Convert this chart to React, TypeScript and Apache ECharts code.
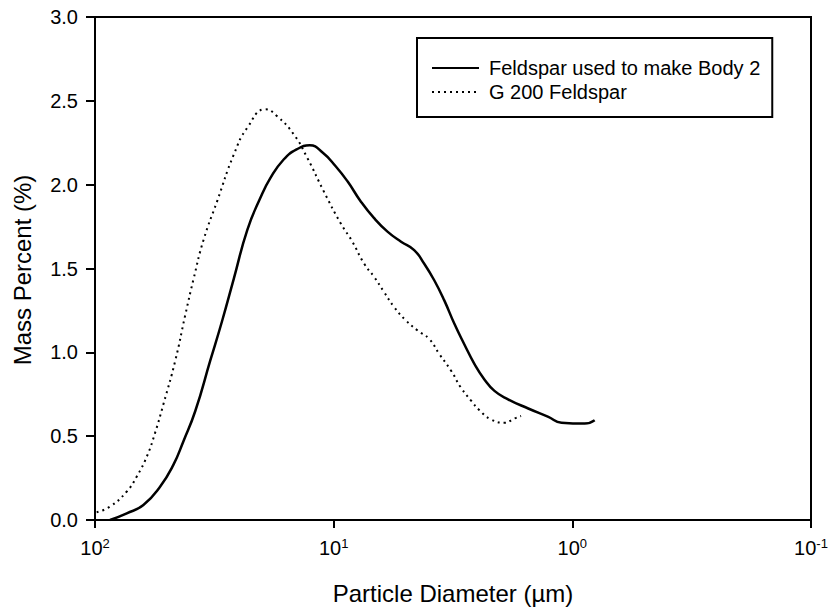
import React, { useEffect, useRef } from "react";
import * as echarts from "echarts";

const FONT = "'Liberation Sans', Arial, Helvetica, sans-serif";

// Feldspar used to make Body 2 (solid)
const body2Diameter = [86.5, 73.6, 62.7, 53.3, 46.9, 42.6, 38.0, 32.9, 29.3, 26.2, 23.0, 20.3, 18.4, 16.2, 14.3, 12.6, 11.1, 9.81, 8.75, 7.70, 6.77, 5.95, 5.22, 4.60, 4.18, 3.79, 3.44, 3.12, 2.84, 2.57, 2.34, 2.12, 1.86, 1.53, 1.26, 1.11, 0.888, 0.806];
const body2Mass = [0.0, 0.04, 0.09, 0.20, 0.33, 0.47, 0.65, 0.95, 1.19, 1.44, 1.73, 1.92, 2.04, 2.15, 2.21, 2.235, 2.19, 2.11, 2.02, 1.90, 1.80, 1.72, 1.66, 1.61, 1.53, 1.43, 1.31, 1.17, 1.05, 0.93, 0.84, 0.77, 0.72, 0.665, 0.615, 0.58, 0.575, 0.595];

// G 200 Feldspar (dotted)
const g200Diameter = [98.4, 86.5, 73.6, 66.8, 60.6, 56.0, 51.7, 46.1, 41.9, 38.6, 35.1, 30.8, 26.2, 23.0, 19.3, 17.3, 14.7, 12.9, 11.0, 9.35, 8.35, 7.46, 6.77, 6.15, 5.58, 4.98, 4.45, 3.98, 3.61, 3.22, 2.93, 2.65, 2.45, 2.19, 1.92, 1.75, 1.64];
const g200Mass = [0.046, 0.08, 0.17, 0.26, 0.38, 0.52, 0.69, 0.95, 1.22, 1.44, 1.67, 1.90, 2.18, 2.34, 2.45, 2.41, 2.30, 2.16, 1.96, 1.77, 1.66, 1.53, 1.45, 1.36, 1.27, 1.19, 1.13, 1.08, 0.99, 0.89, 0.79, 0.71, 0.655, 0.60, 0.58, 0.605, 0.62];

const seriesNames = ["Feldspar used to make Body 2", "G 200 Feldspar"];
const xTitle = "Particle Diameter (µm)";
const yTitle = "Mass Percent (%)";

export default function App() {
  const ref = useRef<HTMLDivElement>(null);

  useEffect(() => {
    if (!ref.current) return;
    const chart = echarts.init(ref.current, null, { renderer: "svg" });
    const pairs = (xs: number[], ys: number[]) => xs.map((x, i) => [x, ys[i]]);

    chart.setOption({
      animation: false,
      backgroundColor: "#fff",
      textStyle: { fontFamily: FONT },
      grid: {
        left: 95,
        right: 20,
        top: 17,
        bottom: 90,
        show: true,
        borderColor: "#000",
        borderWidth: 2,
        containLabel: false,
        outerBoundsMode: "none",
      },
      legend: {
        show: true,
        orient: "vertical",
        left: 417,
        top: 38,
        padding: [20, 12, 15, 14],
        itemWidth: 47,
        itemHeight: 14,
        itemGap: 4,
        borderColor: "#000",
        borderWidth: 2,
        borderRadius: 0,
        backgroundColor: "#fff",
        selectedMode: false,
        itemStyle: { opacity: 0, borderWidth: 0 },
        textStyle: {
          fontSize: 20,
          lineHeight: 20,
          color: "#000",
          fontFamily: FONT,
          padding: [0, 0, 0, 5],
        },
        data: seriesNames,
      },
      xAxis: {
        type: "log",
        logBase: 10,
        min: 0.1,
        max: 100,
        inverse: true,
        axisLine: { show: true, onZero: false, lineStyle: { color: "#000", width: 2 } },
        axisTick: { show: true, inside: false, length: 8, lineStyle: { color: "#000", width: 2 } },
        minorTick: { show: false },
        splitLine: { show: false },
        axisLabel: {
          margin: 17,
          color: "#000",
          formatter: (v: number) => {
            const e = Math.round(Math.log10(v));
            return "{b|10}{s|" + e + "}";
          },
          rich: {
            b: { fontSize: 20, lineHeight: 22, fontFamily: FONT, color: "#000" },
            s: { fontSize: 13, lineHeight: 13, verticalAlign: "top", fontFamily: FONT, color: "#000" },
          },
        },
      },
      yAxis: {
        type: "value",
        min: 0,
        max: 3,
        interval: 0.5,
        axisLine: { show: true, onZero: false, lineStyle: { color: "#000", width: 2 } },
        axisTick: { show: true, inside: false, length: 9, lineStyle: { color: "#000", width: 2 } },
        splitLine: { show: false },
        axisLabel: {
          margin: 17,
          fontSize: 20,
          color: "#000",
          fontFamily: FONT,
          formatter: (v: number) => v.toFixed(1),
        },
      },
      graphic: [
        {
          type: "text",
          x: 453,
          y: 593,
          style: {
            text: xTitle,
            fontSize: 24,
            fontFamily: FONT,
            fill: "#000",
            align: "center",
            verticalAlign: "middle",
          },
        },
        {
          type: "text",
          x: 22,
          y: 270,
          rotation: Math.PI / 2,
          style: {
            text: yTitle,
            fontSize: 24,
            fontFamily: FONT,
            fill: "#000",
            align: "center",
            verticalAlign: "middle",
          },
        },
      ],
      series: [
        {
          name: seriesNames[0],
          type: "line",
          data: pairs(body2Diameter, body2Mass),
          showSymbol: false,
          symbol: "none",
          smooth: 0.5,
          lineStyle: { color: "#000", width: 2.5, type: "solid" },
          itemStyle: { color: "#000" },
        },
        {
          name: seriesNames[1],
          type: "line",
          data: pairs(g200Diameter, g200Mass),
          showSymbol: false,
          symbol: "none",
          smooth: 0.5,
          lineStyle: { color: "#000", width: 2, type: [2, 4] },
          itemStyle: { color: "#000" },
        },
      ],
    });

    return () => chart.dispose();
  }, []);

  return (
    <div
      ref={ref}
      style={{ position: "absolute", left: 0, top: 0, width: 831, height: 610 }}
    />
  );
}
